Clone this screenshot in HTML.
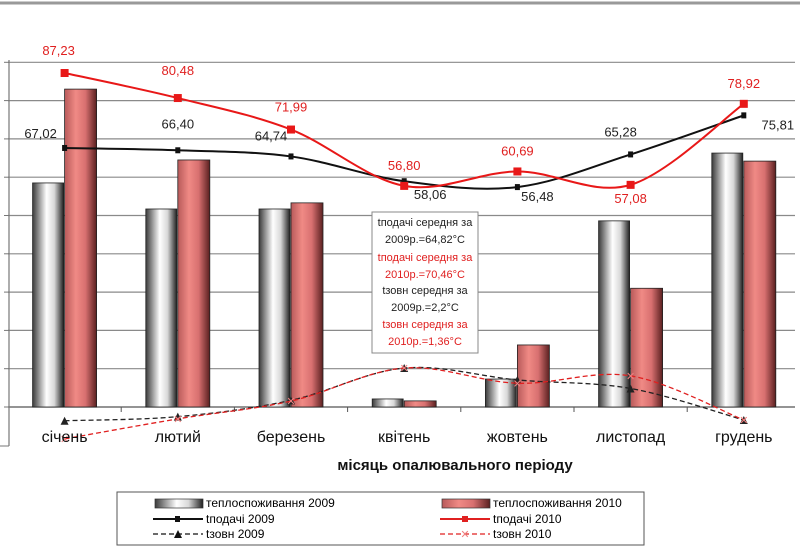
<!DOCTYPE html>
<html><head><meta charset="utf-8">
<style>
body{margin:0;background:#fff;}
svg{display:block;font-family:"Liberation Sans",sans-serif;}
</style></head>
<body>
<svg id="chart" width="800" height="550" viewBox="0 0 800 550">
<defs>
<linearGradient id="gGrey" x1="0" x2="1" y1="0" y2="0">
<stop offset="0" stop-color="#3a3a3a"/><stop offset="0.45" stop-color="#ffffff"/><stop offset="0.7" stop-color="#d8d8d8"/><stop offset="1" stop-color="#202020"/>
</linearGradient>
<linearGradient id="gRed" x1="0" x2="1" y1="0" y2="0">
<stop offset="0" stop-color="#b85a5a"/><stop offset="0.35" stop-color="#f08a85"/><stop offset="0.65" stop-color="#d87070"/><stop offset="1" stop-color="#5a2020"/>
</linearGradient>
</defs>
<line x1="0" y1="3" x2="800" y2="3" stroke="#999" stroke-width="3"/>
<g id="grid"></g>
<g id="bars"></g>
<g id="lines"></g>
<g id="labels"></g>
<g>
<rect x="372" y="212" width="106" height="141" fill="#fff" stroke="#888"/>
<g font-size="11" text-anchor="middle">
<text x="425" y="226" fill="#222">tподачі середня за</text>
<text x="425" y="243" fill="#222">2009р.=64,82°C</text>
<text x="425" y="261" fill="#e02020">tподачі середня за</text>
<text x="425" y="278" fill="#e02020">2010р.=70,46°C</text>
<text x="425" y="294" fill="#222">tзовн середня за</text>
<text x="425" y="311" fill="#222">2009р.=2,2°C</text>
<text x="425" y="328" fill="#e02020">tзовн середня за</text>
<text x="425" y="345" fill="#e02020">2010р.=1,36°C</text>
</g></g>
<text x="455" y="470" font-size="15" font-weight="bold" text-anchor="middle" fill="#111">місяць опалювального періоду</text>
<g>
<rect x="117" y="492" width="527" height="53" fill="#fff" stroke="#555"/>
<rect x="155" y="499" width="48" height="9" fill="url(#gGrey)" stroke="#333" stroke-width="0.7"/>
<text x="206" y="507" font-size="12">теплоспоживання 2009</text>
<rect x="442" y="499" width="48" height="9" fill="url(#gRed)" stroke="#333" stroke-width="0.7"/>
<text x="493" y="507" font-size="12">теплоспоживання 2010</text>
<line x1="153" y1="519" x2="203" y2="519" stroke="#111" stroke-width="2"/><rect x="175" y="516" width="5" height="6" fill="#111"/>
<text x="206" y="523" font-size="12">tподачі 2009</text>
<line x1="440" y1="519" x2="490" y2="519" stroke="#e02020" stroke-width="2"/><rect x="462" y="516" width="6" height="6" fill="#e02020"/>
<text x="493" y="523" font-size="12">tподачі 2010</text>
<line x1="153" y1="534" x2="203" y2="534" stroke="#111" stroke-width="1.3" stroke-dasharray="5,3"/><path d="M174,538 L178,530 L182,538Z" fill="#111"/>
<text x="206" y="538" font-size="12">tзовн 2009</text>
<line x1="440" y1="534" x2="490" y2="534" stroke="#e02020" stroke-width="1.3" stroke-dasharray="5,3"/><text x="465" y="538" font-size="11" fill="#f08080" text-anchor="middle">✕</text>
<text x="493" y="538" font-size="12">tзовн 2010</text>
</g>
</svg>
<script>
const months=["січень","лютий","березень","квітень","жовтень","листопад","грудень"];
const heat2009=[5.85,5.17,5.17,0.21,0.73,4.86,6.63];
const heat2010=[8.3,6.45,5.33,0.16,1.62,3.1,6.42];
const tpod2009=[67.02,66.40,64.74,58.06,56.48,65.28,75.81];
const tpod2010=[87.23,80.48,71.99,56.80,60.69,57.08,78.92];
const tzovn2009=[-6.5,-5.4,-1.0,7.7,4.5,2.2,-6.3];
const tzovn2010=[-11.4,-6.0,-1.2,7.7,3.6,5.6,-6.3];
const tpod2009Labels=["67,02","66,40","64,74","58,06","56,48","65,28","75,81"];
const tpod2010Labels=["87,23","80,48","71,99","56,80","60,69","57,08","78,92"];

const NS="http://www.w3.org/2000/svg";
const X0=8,XW=113.2,BASE=407,UNIT=38.3;
const cx=i=>X0+XW*(i+0.5);
const yBar=v=>BASE-v*UNIT;
const yT=v=>73+(87.23-v)*3.71;
function mk(tag,attrs,parent){const e=document.createElementNS(NS,tag);for(const k in attrs)e.setAttribute(k,attrs[k]);parent.appendChild(e);return e;}
const grid=document.getElementById('grid'),bars=document.getElementById('bars'),lines=document.getElementById('lines'),labels=document.getElementById('labels');
for(let g=1;g<=9;g++){const l=mk('line',{x1:8,x2:795,y1:yBar(g),y2:yBar(g),stroke:'#8a8a8a','stroke-width':1.2},grid);

}
const ax=mk('line',{x1:8,x2:795,y1:BASE,y2:BASE,stroke:'#555','stroke-width':1.2},grid);


const ya=mk('line',{x1:9,x2:9,y1:60,y2:446,stroke:'#777','stroke-width':1.2},grid);


for(let g=0;g<=9;g++)mk('line',{x1:4,x2:9,y1:yBar(g),y2:yBar(g),stroke:'#777'},grid);
for(let i=1;i<7;i++)mk('line',{x1:X0+XW*i,x2:X0+XW*i,y1:BASE,y2:BASE+5,stroke:'#555'},grid);
mk('line',{x1:0,x2:9,y1:446,y2:446,stroke:'#777'},grid);
months.forEach((m,i)=>{
 const b1=mk('rect',{x:cx(i)-32,y:yBar(heat2009[i]),width:31,height:heat2009[i]*UNIT,fill:'url(#gGrey)',stroke:'#222','stroke-width':0.8},bars);
 
 
 const b2=mk('rect',{x:cx(i),y:yBar(heat2010[i]),width:32,height:heat2010[i]*UNIT,fill:'url(#gRed)',stroke:'#222','stroke-width':0.8},bars);
 
 
 const t=mk('text',{x:cx(i),y:442,'font-size':16,'text-anchor':'middle',fill:'#111'},labels);
 t.textContent=m;
 
 
});
function spline(pts){let d='M'+pts[0][0]+','+pts[0][1];
 for(let i=0;i<pts.length-1;i++){const p0=pts[i-1]||pts[i],p1=pts[i],p2=pts[i+1],p3=pts[i+2]||p2;
 d+=' C'+(p1[0]+(p2[0]-p0[0])/6)+','+(p1[1]+(p2[1]-p0[1])/6)+' '+(p2[0]-(p3[0]-p1[0])/6)+','+(p2[1]-(p3[1]-p1[1])/6)+' '+p2[0]+','+p2[1];}
 return d;}
function series(vals,color,w,dash,marker,name){
 const pts=vals.map((v,i)=>[cx(i),yT(v)]);
 const p=mk('path',{d:spline(pts),fill:'none',stroke:color,'stroke-width':w,'stroke-dasharray':dash},lines);
 
 
 pts.forEach(q=>{let m;
  if(marker==='sq')m=mk('rect',{x:q[0]-4,y:q[1]-4,width:8,height:8,fill:color},lines);
  else if(marker==='dot')m=mk('rect',{x:q[0]-2.5,y:q[1]-3,width:5,height:6,fill:color},lines);
  else if(marker==='tri')m=mk('path',{d:`M${q[0]-4},${q[1]+4} L${q[0]},${q[1]-4} L${q[0]+4},${q[1]+4}Z`,fill:color},lines);
  else {m=mk('text',{x:q[0],y:q[1]+4,'font-size':11,'text-anchor':'middle',fill:'#f08080'},lines);m.textContent='✕';}
  
  });
}
series(tzovn2009,'#222',1.3,'5,3','tri','tzovn-2009-line');
series(tzovn2010,'#e02020',1.3,'5,3','x','tzovn-2010-line');
series(tpod2009,'#111',2,'none','dot','tpod-2009-line');
series(tpod2010,'#e81818',2,'none','sq','tpod-2010-line');
const off09=[[-24,-10],[0,-22],[-20,-16],[26,18],[20,14],[-10,-18],[34,14]];
const off10=[[-6,-18],[0,-23],[0,-18],[0,-16],[0,-16],[0,18],[0,-16]];
tpod2009Labels.forEach((s,i)=>{const t=mk('text',{x:cx(i)+off09[i][0],y:yT(tpod2009[i])+off09[i][1],'font-size':13,'text-anchor':'middle',fill:'#222'},labels);
 t.textContent=s;
 
 });
tpod2010Labels.forEach((s,i)=>{const t=mk('text',{x:cx(i)+off10[i][0],y:yT(tpod2010[i])+off10[i][1],'font-size':13,'text-anchor':'middle',fill:'#e02020'},labels);
 t.textContent=s;
 
 });
</script>
</body></html>
